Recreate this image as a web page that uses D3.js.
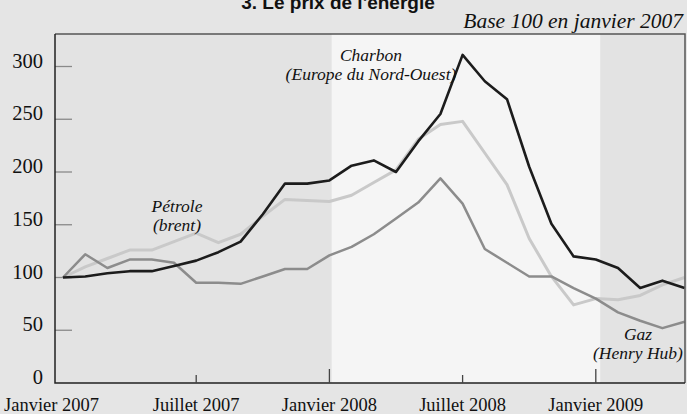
<!DOCTYPE html>
<html>
<head>
<meta charset="utf-8">
<script src="https://cdn.jsdelivr.net/npm/d3@7"></script>
<style>
    body { margin: 0; background: #e5e5e5; }
    svg { display: block; }
    .serif { font-family: 'Liberation Serif', 'DejaVu Serif', serif; fill: #111; }
    .note { font-style: italic; font-size: 17.5px; text-anchor: middle; }
</style>
</head>
<body>
<svg width="687" height="414"></svg>
<script>
// mois depuis janvier 2007 (0 = janvier 2007, 28 = mai 2009)
const months = d3.range(0, 29);

const charbon = [100, 101, 104, 106, 106, 111, 116, 124, 134, 160, 189, 189, 192, 206, 211,
    200, 229, 255, 311, 286, 269, 205, 151, 120, 117, 109, 90, 97, 90];
const petrole = [100, 110, 118, 126, 126, 134, 142, 133, 141, 158, 174, 173, 172, 178, 190,
    202, 231, 245, 248, 218, 188, 137, 101, 74, 80, 79, 83, 93, 100];
const gaz = [100, 122, 109, 117, 117, 114, 95, 95, 94, 101, 108, 108, 121, 129, 141,
    156, 171, 194, 170, 127, 114, 101, 101, 90, 80, 67, 59, 52, 58];

const yTicks = [0, 50, 100, 150, 200, 250, 300];
const xTicks = [
    { m: 0, label: 'Janvier 2007' },
    { m: 6, label: 'Juillet 2007' },
    { m: 12, label: 'Janvier 2008' },
    { m: 18, label: 'Juillet 2008' },
    { m: 24, label: 'Janvier 2009' }
];

const svg = d3.select('svg');

const plot = { left: 55, right: 685, top: 34, bottom: 383 };

const x = d3.scaleLinear().domain([0, 28]).range([63, 684.6]);
const y = d3.scaleLinear().domain([0, 300]).range([plot.bottom, 66.5]);

// fond du graphique : 2007 et 2009 en gris, 2008 en clair
svg.append('rect')
    .attr('x', plot.left).attr('y', plot.top)
    .attr('width', plot.right - plot.left).attr('height', plot.bottom - plot.top)
    .attr('fill', '#e3e3e3');

svg.append('rect')
    .attr('x', x(12.1)).attr('y', plot.top)
    .attr('width', x(24.2) - x(12.1)).attr('height', plot.bottom - plot.top)
    .attr('fill', '#f5f5f5');

// graduations de l'axe vertical
svg.append('g')
    .selectAll('line')
    .data(yTicks.filter(d => d > 0))
    .enter().append('line')
    .attr('x1', plot.left).attr('x2', plot.left + 17)
    .attr('y1', d => y(d)).attr('y2', d => y(d))
    .attr('stroke', '#8a8a8a')
    .attr('stroke-width', 1.3);

svg.append('g')
    .selectAll('text')
    .data(yTicks)
    .enter().append('text')
    .attr('class', 'serif')
    .attr('x', 43)
    .attr('y', d => y(d) + 1)
    .attr('text-anchor', 'end')
    .attr('font-size', 20.5)
    .text(d => d);

// séries
const line = d3.line()
    .x((d, i) => x(months[i]))
    .y(d => y(d));

const series = [
    { values: petrole, color: '#c9c9c9', w: 3 },
    { values: gaz, color: '#8c8c8c', w: 2.5 },
    { values: charbon, color: '#1c1c1c', w: 2.6 }
];

svg.append('g')
    .selectAll('path')
    .data(series)
    .enter().append('path')
    .attr('d', d => line(d.values))
    .attr('fill', 'none')
    .attr('stroke', d => d.color)
    .attr('stroke-width', d => d.w)
    .attr('stroke-linejoin', 'round');

// cadre
svg.append('path')
    .attr('d', `M${plot.left},${plot.top}H${plot.right}V${plot.bottom}`)
    .attr('fill', 'none')
    .attr('stroke', '#555')
    .attr('stroke-width', 1.5);

svg.append('path')
    .attr('d', `M${plot.left},${plot.top}V${plot.bottom}H${plot.right}`)
    .attr('fill', 'none')
    .attr('stroke', '#222')
    .attr('stroke-width', 1.5);

// graduations de l'axe horizontal (janvier plus longues)
svg.append('g')
    .selectAll('line')
    .data(xTicks.filter(d => d.m > 0))
    .enter().append('line')
    .attr('x1', d => x(d.m)).attr('x2', d => x(d.m))
    .attr('y1', plot.bottom)
    .attr('y2', d => d.m % 12 === 0 ? plot.bottom - 14 : plot.bottom - 8)
    .attr('stroke', '#444')
    .attr('stroke-width', 1.3);

svg.append('g')
    .selectAll('text')
    .data(xTicks)
    .enter().append('text')
    .attr('class', 'serif')
    .attr('x', d => d.m === 0 ? 4 : x(d.m))
    .attr('y', 411)
    .attr('text-anchor', d => d.m === 0 ? 'start' : 'middle')
    .attr('font-size', 18.5)
    .text(d => d.label);

// titres
svg.append('text')
    .attr('x', 338)
    .attr('y', 9)
    .attr('text-anchor', 'middle')
    .attr('font-family', "'Liberation Sans', Arial, sans-serif")
    .attr('font-weight', 'bold')
    .attr('font-size', 19)
    .attr('fill', '#111')
    .text("3. Le prix de l'énergie");

svg.append('text')
    .attr('class', 'serif')
    .attr('x', 683)
    .attr('y', 28)
    .attr('text-anchor', 'end')
    .attr('font-style', 'italic')
    .attr('font-size', 21.5)
    .text('Base 100 en janvier 2007');

// étiquettes des séries
const notes = [
    { lines: ['Charbon', '(Europe du Nord-Ouest)'], cx: 371, y0: 61 },
    { lines: ['Pétrole', '(brent)'], cx: 177, y0: 212 },
    { lines: ['Gaz', '(Henry Hub)'], cx: 638, y0: 340 }
];

notes.forEach(n => {
    const t = svg.append('text')
        .attr('class', 'serif note')
        .attr('x', n.cx)
        .attr('y', n.y0);
    n.lines.forEach((l, i) => {
        t.append('tspan')
            .attr('x', n.cx)
            .attr('dy', i === 0 ? 0 : 19)
            .text(l);
    });
});
</script>
</body>
</html>
